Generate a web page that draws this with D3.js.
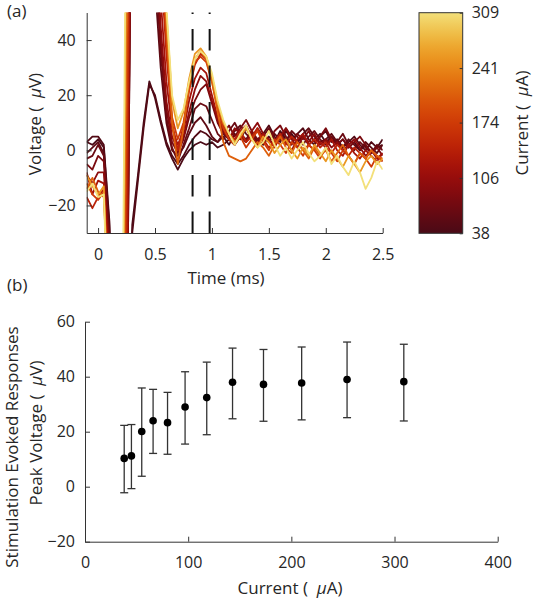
<!DOCTYPE html>
<html><head><meta charset="utf-8">
<script src="https://cdn.jsdelivr.net/npm/d3@7"></script>
<style>
body{margin:0;background:#fff}
text{font-family:"Open Sans",sans-serif;fill:#262626}
</style>
</head><body>
<svg id="c" width="533" height="600"></svg>
<script>
// ---------- data ----------
const time = [-0.1,-0.05,0,0.05,0.1,0.15,0.2,0.25,0.3,0.35,0.4,0.45,0.5,0.55,0.6,0.65,0.7,0.75,0.8,0.85,0.9,0.95,1,1.05,1.1,1.15,1.2,1.25,1.3,1.35,1.4,1.45,1.5,1.55,1.6,1.65,1.7,1.75,1.8,1.85,1.9,1.95,2,2.05,2.1,2.15,2.2,2.25,2.3,2.35,2.4,2.45,2.5];
const currents = [38,45,55,66,80,97,118,143,173,210,254,309];

const v38 = [3,2,4,1,-28,-140,-160,-120,-27,-9,10,25,19,10,2,-3,-7,-3,0,2,3,2,3,1,2,4,2,5,3,6,4,2,5,3,7,4,6,3,5,2,4,6,3,5,2,4,1,3,0,2,-1,1,4];
const v45 = [3,5,5,2,-26,-140,-160,-120,-30,-11,8,24,20,11,3,-2,-5,-2,2,5,7,6,4,3,5,2,6,4,8,5,3,6,9,5,3,7,4,6,8,4,2,5,7,3,4,1,3,5,2,0,3,1,2];
const v55 = [-1,1,3,-1,-30,-150,-150,-95,150,170,140,95,60,30,10,0,-2,1,6,10,12,9,5,3,6,4,7,9,6,4,8,5,3,6,4,8,5,3,6,8,5,3,4,6,3,1,4,2,0,3,1,-1,2];
const v66 = [-3,-2,2,-2,-32,-150,-150,-95,150,175,150,105,68,36,12,1,-4,2,8,15,17,16,11,6,4,7,10,6,4,7,3,5,8,4,6,3,7,5,2,5,7,4,2,5,3,6,2,0,3,1,-1,2,0];
const v80 = [-5,-7,-2,-4,-35,-150,-150,-90,155,180,160,115,75,40,15,3,-1,4,12,18,22,24,17,10,6,9,5,8,11,7,4,6,3,7,9,5,2,6,4,7,3,5,8,4,2,4,1,3,5,2,-1,1,-2];
const v97 = [-9,-12,-8,-8,-38,-150,-150,-85,160,185,170,125,82,45,18,5,0,5,14,22,27,25,18,11,7,4,8,6,3,7,10,6,4,2,5,8,4,1,5,3,6,2,4,1,3,0,2,4,1,-2,0,-3,-1];
const v118 = [-8,-16,-11,-12,-42,-150,-150,-60,165,190,180,140,95,55,25,8,2,7,18,26,30,28,20,12,8,5,3,7,9,5,2,6,4,1,5,3,0,4,6,2,0,3,1,4,0,-2,2,-1,-3,0,-2,-4,-1];
const v143 = [-17,-21,-17,-14,-50,-150,-150,-30,170,195,190,155,110,68,35,10,0,9,22,31,35,33,26,16,9,6,4,7,3,5,8,4,1,3,6,2,5,3,0,2,4,1,3,-1,2,0,-2,1,-1,-3,0,-2,-4];
const v173 = [-12,-16,-18,-15,-55,-150,-150,0,175,200,195,165,120,75,40,12,4,10,22,32,34,32,25,15,8,4,2,5,1,4,7,3,0,4,2,-1,3,1,-2,2,0,-3,1,-1,-4,0,-2,-5,-1,-3,-6,-2,-4];
const v210 = [-14,-10,-15,-17,-60,-150,-150,40,180,205,200,170,125,80,45,10,-5,8,24,33,36,33,25,14,3,-2,-3,-4,-3,0,3,1,-2,2,5,1,-1,3,0,-3,1,-2,0,-4,-1,2,-2,-5,-1,-3,0,-2,-3];
const v254 = [-9,-13,-16,-13,-70,-150,-150,80,185,210,205,180,135,85,50,18,8,14,26,35,37,34,27,17,10,6,3,5,8,4,1,5,3,-1,2,4,0,-3,1,-2,2,-1,-4,0,-3,-6,-2,-5,-8,-4,-2,-5,-3];
const v309 = [-15,-12,-17,-16,-75,-150,-150,120,190,215,210,185,140,80,52,20,11,15,25,33,36,34,28,18,11,6,2,6,9,4,1,3,7,2,-2,1,-3,0,3,-1,-4,-2,1,-5,-2,-6,-9,-4,-8,-14,-10,-4,-7];
const traces = [v38,v45,v55,v66,v80,v97,v118,v143,v173,v210,v254,v309];

const windowLines = [0.83, 0.98];
const timeTicks = [0,0.5,1,1.5,2,2.5];
const voltTicks = [-20,0,20,40];
const colorbarTicks = [38,106,174,241,309];

const currentLevels = [38,45,55,66,80,97,118,143,173,210,254,309];
const peakMean = [10.3,11.2,20.1,24.0,23.3,29.0,32.4,38.0,37.2,37.7,39.0,38.2];
const errTop = [22.3,22.6,35.9,35.4,34.3,41.8,45.3,50.4,49.9,50.8,52.6,51.8];
const errBottom = [-2.2,-0.7,3.8,12.1,11.8,15.5,18.9,24.7,23.8,24.3,25.1,23.9];
const currentTicks = [0,100,200,300,400];
const peakTicks = [-20,0,20,40,60];

// ---------- drawing ----------
const svg = d3.select("#c");
const axisCol = "#333";
const NB = "\u00a0";
const cmapStops = ["#4a0a16","#760a10","#a20c0a","#c52a06","#d84a08","#e67a10","#eeaa2a","#f3e07a"];
const cmap = d3.interpolateRgbBasis(cmapStops);
const cnorm = d3.scaleLinear().domain([38,309]).range([0,1]);

// panel (a)
const xA = d3.scaleLinear().domain([-0.1,2.5]).range([86.7,382.7]);
const yA = d3.scaleLinear().domain([-30,50]).range([233,12.5]);

svg.append("clipPath").attr("id","clipA").append("rect")
  .attr("x",xA(-0.1)).attr("y",yA(50)).attr("width",xA(2.5)-xA(-0.1)).attr("height",yA(-30)-yA(50));

const line = d3.line().x((d,i)=>xA(time[i])).y(d=>yA(d));
const gT = svg.append("g").attr("clip-path","url(#clipA)");
traces.forEach((tr,k)=>{
  gT.append("path").attr("d",line(tr)).attr("fill","none")
    .attr("stroke",cmap(cnorm(currents[k]))).attr("stroke-width",1.8)
    .attr("stroke-linejoin","round");
});
windowLines.forEach(t=>{
  svg.append("line").attr("x1",xA(t)).attr("x2",xA(t)).attr("y1",yA(-30)).attr("y2",yA(50))
    .attr("stroke","#111").attr("stroke-width",2).attr("stroke-dasharray","21.5,15");
});

function styleAxis(g){
  g.selectAll("path,line").attr("stroke",axisCol).attr("stroke-width",1);
  g.selectAll("text").attr("fill","#262626").style("font-family","'Open Sans',sans-serif").style("font-size","16px");
}
const axXA = svg.append("g").attr("transform",`translate(0,${yA(-30)})`)
  .call(d3.axisBottom(xA).tickValues(timeTicks).tickFormat(d3.format("")).tickSizeInner(-5).tickSizeOuter(0).tickPadding(16));
styleAxis(axXA);
const axYA = svg.append("g").attr("transform",`translate(${xA(-0.1)},0)`)
  .call(d3.axisLeft(yA).tickValues(voltTicks).tickSizeInner(-5).tickSizeOuter(0).tickPadding(11));
styleAxis(axYA);

svg.append("text").attr("x",226).attr("y",284).attr("text-anchor","middle").style("font-size","17px").text("Time (ms)");
const ylA = svg.append("text").attr("transform","translate(41,124) rotate(-90)").attr("text-anchor","middle").style("font-size","17px");
ylA.append("tspan").text("Voltage ("+NB+NB);
ylA.append("tspan").style("font-style","italic").text("μ");
ylA.append("tspan").text("V)");
svg.append("text").attr("x",7).attr("y",17).style("font-size","17px").text("(a)");

// colorbar
const cbX = 419, cbW = 43.7;
const yC = d3.scaleLinear().domain([38,309]).range([233.3,12.7]);
const grad = svg.append("defs").append("linearGradient").attr("id","cbg")
  .attr("x1",0).attr("y1",1).attr("x2",0).attr("y2",0);
d3.range(0,1.0001,0.05).forEach(f=>{
  grad.append("stop").attr("offset",f).attr("stop-color",cmap(f));
});
svg.append("rect").attr("x",cbX).attr("y",yC(309)).attr("width",cbW).attr("height",yC(38)-yC(309))
  .attr("fill","url(#cbg)").attr("stroke",axisCol).attr("stroke-width",1);
const axC = svg.append("g").attr("transform",`translate(${cbX+cbW},0)`)
  .call(d3.axisRight(yC).tickValues(colorbarTicks).tickSizeInner(-3).tickSizeOuter(0).tickPadding(9));
styleAxis(axC);
axC.select(".domain").remove();
const clab = svg.append("text").attr("transform","translate(528,123) rotate(-90)").attr("text-anchor","middle").style("font-size","17px");
clab.append("tspan").text("Current ("+NB+NB);
clab.append("tspan").style("font-style","italic").text("μ");
clab.append("tspan").text("A)");

// panel (b)
const xB = d3.scaleLinear().domain([0,400]).range([85,497.7]);
const yB = d3.scaleLinear().domain([-20,60]).range([541.7,321.7]);
const axXB = svg.append("g").attr("transform",`translate(0,${yB(-20)})`)
  .call(d3.axisBottom(xB).tickValues(currentTicks).tickSizeInner(-5).tickSizeOuter(0).tickPadding(15));
styleAxis(axXB);
const axYB = svg.append("g").attr("transform",`translate(${xB(0)},0)`)
  .call(d3.axisLeft(yB).tickValues(peakTicks).tickSizeInner(-5).tickSizeOuter(0).tickPadding(10));
styleAxis(axYB);

const gE = svg.append("g");
currentLevels.forEach((c,i)=>{
  const x = xB(c);
  gE.append("line").attr("x1",x).attr("x2",x).attr("y1",yB(errBottom[i])).attr("y2",yB(errTop[i]))
    .attr("stroke","#333").attr("stroke-width",1.3);
  [errBottom[i],errTop[i]].forEach(v=>{
    gE.append("line").attr("x1",x-4).attr("x2",x+4).attr("y1",yB(v)).attr("y2",yB(v))
      .attr("stroke","#333").attr("stroke-width",1.3);
  });
  gE.append("circle").attr("cx",x).attr("cy",yB(peakMean[i])).attr("r",3.8).attr("fill","#000");
});

const xlB = svg.append("text").attr("x",290).attr("y",594).attr("text-anchor","middle").style("font-size","17px");
xlB.append("tspan").text("Current ("+NB+NB);
xlB.append("tspan").style("font-style","italic").text("μ");
xlB.append("tspan").text("A)");
svg.append("text").attr("transform","translate(18,447) rotate(-90)").attr("text-anchor","middle").style("font-size","17px")
  .text("Stimulation Evoked Responses");
const yl2 = svg.append("text").attr("transform","translate(42,433) rotate(-90)").attr("text-anchor","middle").style("font-size","17px");
yl2.append("tspan").text("Peak Voltage ("+NB+NB);
yl2.append("tspan").style("font-style","italic").text("μ");
yl2.append("tspan").text("V)");
svg.append("text").attr("x",7).attr("y",291).style("font-size","17px").text("(b)");
</script>
</body></html>
